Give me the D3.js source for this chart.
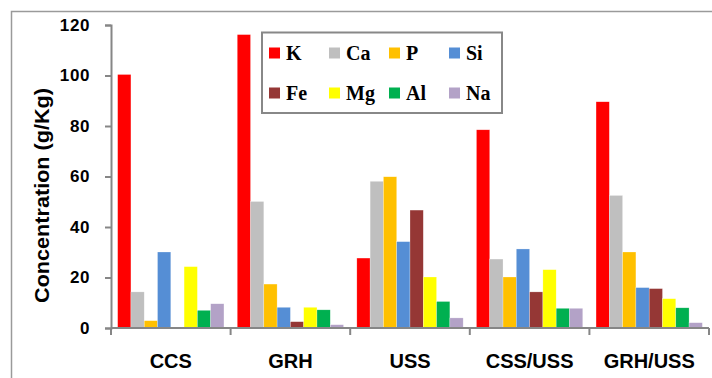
<!DOCTYPE html>
<html><head><meta charset="utf-8">
<script src="https://cdn.jsdelivr.net/npm/d3@7"></script>
<style>body{margin:0;background:#fff}svg{display:block}</style>
</head><body>
<svg id="c" width="712" height="378"></svg>
<script>
const categories = ["CCS","GRH","USS","CSS/USS","GRH/USS"];
const seriesNames = ["K","Ca","P","Si","Fe","Mg","Al","Na"];
const seriesColors = ["#FF0000","#BFBFBF","#FFC000","#558ED5","#953735","#FFFF00","#00B050","#B3A2C7"];
const K  = [100.4,116.2,27.7,78.5,89.6];
const Ca = [14.3,50.1,58.1,27.3,52.5];
const P  = [2.9,17.4,59.9,20.2,30.1];
const Si = [30.1,8.2,34.2,31.3,16.0];
const Fe = [0,2.5,46.7,14.3,15.6];
const Mg = [24.3,8.2,20.2,23.1,11.6];
const Al = [7.0,7.2,10.5,7.8,8.0];
const Na = [9.6,1.3,4.0,7.8,2.1];
const seriesValues = [K,Ca,P,Si,Fe,Mg,Al,Na];
const yTicks = [0,20,40,60,80,100,120];

const svg = d3.select("#c");
// outer frame
svg.append("path").attr("d","M11.5,378 V11.5 H712").attr("fill","none").attr("stroke","#9a9a9a").attr("stroke-width",1.5);

const x0 = d3.scaleBand().domain(categories).range([111,709]).padding(0);
const x1 = d3.scaleBand().domain(seriesNames).range([0,x0.bandwidth()]).paddingInner(0).paddingOuter(0.5);
const y = d3.scaleLinear().domain([0,120]).range([328,25]);

// bars
const g = svg.append("g");
categories.forEach((c,ci)=>{
  seriesNames.forEach((s,si)=>{
    const v = seriesValues[si][ci];
    if (v<=0) return;
    g.append("rect")
      .attr("x", x0(c)+x1(s))
      .attr("y", y(v))
      .attr("width", x1.bandwidth())
      .attr("height", y(0)-y(v))
      .attr("fill", seriesColors[si])
      .attr("stroke","rgba(255,255,255,0.5)").attr("stroke-width",0.5);
  });
});

// y axis
const yAxis = svg.append("g").attr("transform","translate(111,0)")
  .call(d3.axisLeft(y).tickValues(yTicks).tickSize(6).tickPadding(15).tickFormat(d3.format("d")));
yAxis.select(".domain").attr("stroke","#868686").attr("stroke-width",2);
yAxis.selectAll(".tick line").attr("stroke","#868686").attr("stroke-width",2);
yAxis.selectAll(".tick text").attr("font-family","'Liberation Sans',Arial,sans-serif")
  .attr("font-weight","bold").attr("font-size",17).attr("fill","#000").attr("letter-spacing","0.6px");

// x axis
const xAxis = svg.append("g").attr("transform","translate(0,328)")
  .call(d3.axisBottom(x0).tickSize(0).tickPadding(0).tickFormat(""));
xAxis.select(".domain").attr("stroke","#868686").attr("stroke-width",2).attr("d","M111,0H709");
xAxis.selectAll(".tick").remove();
const bounds = categories.map(c=>x0(c)).concat([x0.range()[1]]);
xAxis.selectAll("line.sep").data(bounds).enter().append("line")
  .attr("x1",d=>d).attr("x2",d=>d).attr("y1",0).attr("y2",7)
  .attr("stroke","#868686").attr("stroke-width",2);
xAxis.selectAll("text.cat").data(categories).enter().append("text")
  .attr("x",d=>x0(d)+x0.bandwidth()/2).attr("y",40)
  .attr("text-anchor","middle").attr("font-family","'Liberation Sans',Arial,sans-serif")
  .attr("font-weight","bold").attr("font-size",20).attr("fill","#000").text(d=>d);

// y title
svg.append("text").attr("transform","translate(49,195.5) rotate(-90)")
  .attr("text-anchor","middle").attr("font-family","'Liberation Sans',Arial,sans-serif")
  .attr("font-weight","bold").attr("font-size",20).attr("fill","#000")
  .attr("textLength",215).attr("lengthAdjust","spacingAndGlyphs")
  .text("Concentration (g/Kg)");

// legend
const lg = svg.append("g");
lg.append("rect").attr("x",262).attr("y",32.5).attr("width",240).attr("height",80.5)
  .attr("fill","#fff").attr("stroke","#888").attr("stroke-width",2);
seriesNames.forEach((s,i)=>{
  const col = i%4, row = Math.floor(i/4);
  const sx = 269 + col*60, cy = 53 + row*40;
  lg.append("rect").attr("x",sx).attr("y",cy-5.5).attr("width",11).attr("height",11).attr("fill",seriesColors[i]);
  lg.append("text").attr("x",sx+17).attr("y",cy+7)
    .attr("font-family","'Liberation Serif','Times New Roman',serif").attr("font-weight","bold")
    .attr("font-size",20).attr("fill","#000").text(s);
});
</script>
</body></html>
